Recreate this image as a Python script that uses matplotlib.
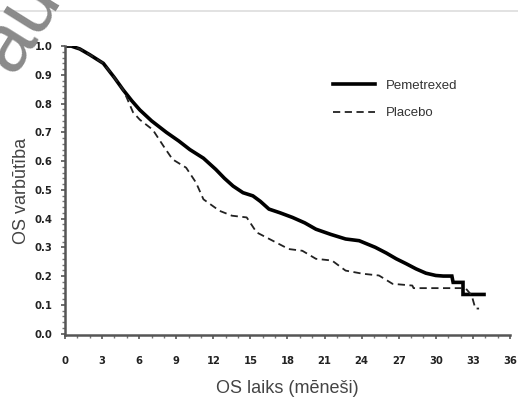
import matplotlib
matplotlib.use('Agg')
import matplotlib.pyplot as plt
from matplotlib.ticker import MultipleLocator

# Kaplan-Meier curves (months, survival probability)
pem_months = [0, 0.5, 1.2, 2.0, 3.1, 4.0, 4.7, 5.4, 6.05, 7.0, 8.2, 9.2, 10.1,
              11.2, 12.2, 12.9, 13.6, 14.4, 15.2, 15.8, 16.5, 17.4, 18.4,
              19.4, 20.3, 21.5, 22.7, 23.8, 25.1, 26.0, 26.8, 27.6, 28.4,
              29.2, 30.0, 30.6, 31.3, 31.4, 32.2, 32.2, 33.9]
pem_surv = [1.0, 1.0, 0.99, 0.97, 0.94, 0.89, 0.848, 0.81, 0.778, 0.74, 0.70,
            0.67, 0.64, 0.61, 0.571, 0.54, 0.513, 0.49, 0.479, 0.46, 0.433,
            0.42, 0.404, 0.385, 0.363, 0.345, 0.329, 0.323, 0.30, 0.28, 0.26,
            0.243, 0.225, 0.21, 0.202, 0.20, 0.20, 0.178, 0.178, 0.136, 0.136]

plc_months = [0, 0.5, 1.2, 2.0, 3.1, 4.0, 4.7, 5.0, 5.5, 6.05, 7.1, 8.0, 8.7,
              9.8, 10.6, 11.2, 12.5, 13.5, 14.7, 15.5, 16.8, 18.1, 19.2,
              20.3, 21.6, 22.7, 24.1, 25.4, 26.5, 28.1, 28.2, 32.4, 32.9,
              33.2, 33.5]
plc_surv = [1.0, 1.0, 0.99, 0.97, 0.94, 0.89, 0.848, 0.82, 0.77, 0.744, 0.709,
            0.65, 0.606, 0.577, 0.525, 0.467, 0.427, 0.41, 0.404, 0.352,
            0.323, 0.294, 0.288, 0.26, 0.254, 0.219, 0.208, 0.202, 0.173,
            0.167, 0.158, 0.158, 0.133, 0.087, 0.087]

x_ticks = list(range(0, 37, 3))
y_ticks = [i / 10 for i in range(11)]

tick_font = dict(family='DejaVu Sans', stretch='condensed',
                 weight='bold', size=8)

fig = plt.figure(figsize=(5.18, 4.19), dpi=100)
ax = fig.add_axes([0.1255, 0.2005, 0.859, 0.6895])

ax.plot(pem_months, pem_surv, color='black', linewidth=2.6,
        label='Pemetrexed', solid_joinstyle='miter')
ax.plot(plc_months, plc_surv, color='#222222', linewidth=1.3,
        linestyle=(0, (4, 2.5)), label='Placebo')

ax.set_xlim(0, 36)
ax.set_ylim(-0.005, 1.0)
ax.set_xticks(x_ticks)
ax.set_yticks(y_ticks)
ax.set_xticklabels([str(t) for t in x_ticks], **tick_font)
ax.set_yticklabels([f'{t:.1f}' for t in y_ticks], **tick_font)
ax.xaxis.set_minor_locator(MultipleLocator(1))
ax.yaxis.set_minor_locator(MultipleLocator(0.02))
ax.tick_params(axis='x', which='major', pad=12)
ax.tick_params(axis='y', which='major', pad=6)
ax.tick_params(which='major', length=3, width=1.2, color='#555555',
               labelcolor='#222222')
ax.tick_params(which='minor', length=2, width=1, color='#777777')

for side in ['top', 'right']:
    ax.spines[side].set_visible(False)
for side in ['left', 'bottom']:
    ax.spines[side].set_color('#555555')
    ax.spines[side].set_linewidth(1.8)

ax.set_xlabel('OS laiks (mēneši)', fontsize=13, color='#444444',
              family='Liberation Sans', labelpad=10)
ax.set_ylabel('OS varbūtība', fontsize=13, color='#444444',
              family='Liberation Sans', labelpad=3)

leg = ax.legend(loc='upper left', bbox_to_anchor=(0.575, 0.925), frameon=False,
                prop={'family': 'Liberation Sans', 'size': 9.5},
                handlelength=3.2, labelspacing=1.15, handletextpad=0.8)
for t in leg.get_texts():
    t.set_color('#333333')

# light rule across the top and the partial watermark in the corner
fig.add_artist(plt.Line2D([0, 1], [1 - 11 / 419, 1 - 11 / 419],
                          color='#dddddd', linewidth=1.2))
fig.text(-0.075, 0.84, 'au', fontsize=60, color='#8a8a8a', rotation=58,
         family='Liberation Sans')

fig.savefig('out.png', dpi=100, facecolor='white')
